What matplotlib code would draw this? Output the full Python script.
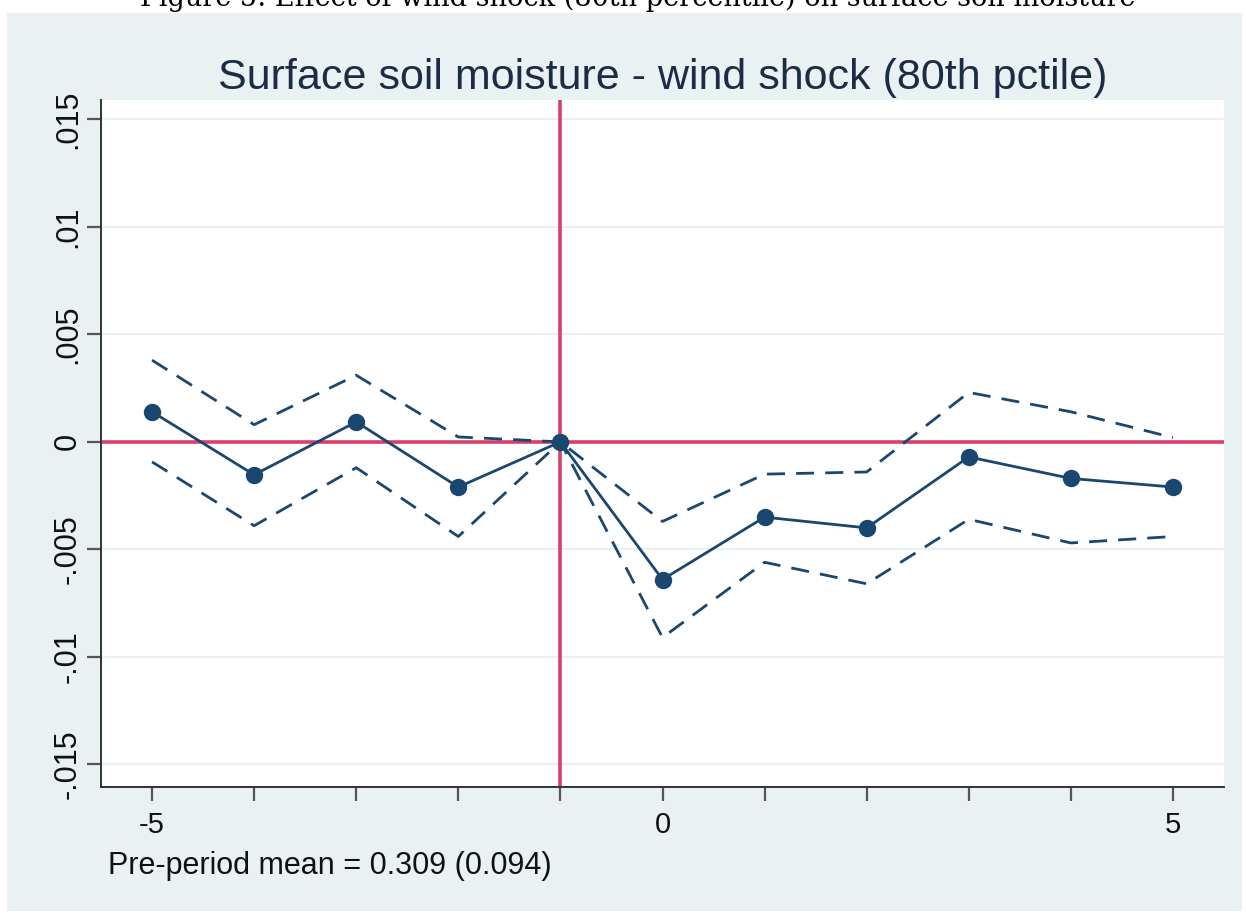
import matplotlib.pyplot as plt
from matplotlib.patches import Rectangle

# event time
periods = [-5, -4, -3, -2, -1, 0, 1, 2, 3, 4, 5]
# point estimates and 95% bounds
coef = [0.0014, -0.00153, 0.00093, -0.0021, 0.0, -0.0064, -0.0035, -0.0040, -0.0007, -0.0017, -0.0021]
upper = [0.0038, 0.0008, 0.0031, 0.00023, 0.0, -0.0037, -0.0015, -0.0014, 0.0023, 0.0014, 0.0002]
lower = [-0.00093, -0.0039, -0.0012, -0.0044, 0.0, -0.0091, -0.0056, -0.0066, -0.0036, -0.0047, -0.0044]

yticks = [-0.015, -0.01, -0.005, 0, 0.005, 0.01, 0.015]
ytick_labels = ["-.015", "-.01", "-.005", "0", ".005", ".01", ".015"]
xtick_labels = ["-5", "", "", "", "", "0", "", "", "", "", "5"]

navy = "#1a476f"
red = "#d8406a"
bg = "#eaf1f3"

W, H = 1246, 913
fig = plt.figure(figsize=(W / 100, H / 100), dpi=100, facecolor="white")
plt.rcParams['font.family'] = ['Liberation Sans', 'DejaVu Sans']

# grey-blue graph region
fig.patches.append(Rectangle((7 / W, 2 / H), 1235 / W, (911 - 13) / H,
                             transform=fig.transFigure, facecolor=bg,
                             edgecolor="none", zorder=-5))

# caption cut off at top of page
fig.text(0.512, 1 - 6 / H, "Figure 5: Effect of wind shock (80th percentile) on surface soil moisture",
         ha="center", va="baseline", fontsize=19.5, family="DejaVu Serif", color="black")

ax = fig.add_axes([101 / W, (H - 787) / H, (1224 - 101) / W, (787 - 100) / H])
ax.set_facecolor("white")

for yv in yticks:
    ax.axhline(yv, color=bg, lw=1.6, zorder=1)

ax.axhline(0, color=red, lw=2.6, zorder=2)
ax.axvline(-1, color=red, lw=2.6, zorder=2)

ax.plot(periods, upper, color=navy, lw=2.0, dashes=(6.5, 4), zorder=3)
ax.plot(periods, lower, color=navy, lw=2.0, dashes=(6.5, 4), zorder=3)
ax.plot(periods, coef, color=navy, lw=2.0, marker="o", markersize=11.5, zorder=4)

ax.set_xlim(-5.5, 5.5)
ax.set_ylim(-0.01605, 0.0159)
ax.set_xticks(periods)
ax.set_xticklabels(xtick_labels)
ax.set_yticks(yticks)
ax.set_yticklabels(ytick_labels, rotation=90, va="center")

for s in ["top", "right"]:
    ax.spines[s].set_visible(False)
for s in ["left", "bottom"]:
    ax.spines[s].set_color("#333333")
    ax.spines[s].set_linewidth(1.4)

ax.tick_params(axis="both", length=10, width=1.6, color="#555555",
               labelcolor="#111111")
ax.tick_params(axis="y", labelsize=22, pad=3)
ax.tick_params(axis="x", labelsize=21, pad=7)

ax.set_title("Surface soil moisture - wind shock (80th pctile)", fontsize=31,
             color="#1e2b45", pad=8)

fig.text(108 / W, 1 - 866 / H, "Pre-period mean = 0.309 (0.094)", fontsize=22,
         va="center", ha="left", color="#111111")

fig.savefig("out.png", dpi=100, facecolor="white")
